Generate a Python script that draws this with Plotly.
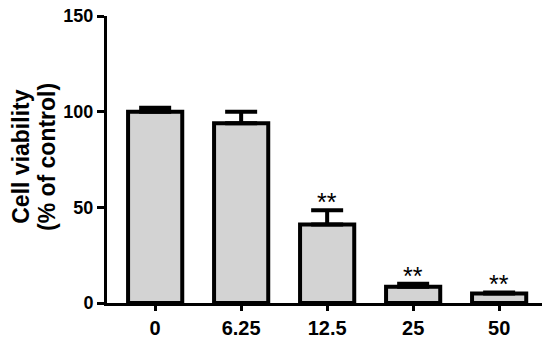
import plotly.graph_objects as go

# concentration groups and measured viability (% of control)
concentrations = ["0", "6.25", "12.5", "25", "50"]
viability = [100, 94, 41, 8.5, 5]
viability_sd = [2, 6, 7.5, 1.5, 0.5]
significance = ["", "", "**", "**", "**"]
y_title_lines = ["Cell viability", "(% of control)"]

font_family = "Liberation Sans, Arial, sans-serif"

fig = go.Figure()

fig.add_trace(go.Bar(
    x=concentrations,
    y=viability,
    marker=dict(color="#d3d3d3", line=dict(color="black", width=4)),
    error_y=dict(type="data", symmetric=False, array=viability_sd,
                 arrayminus=[0] * len(viability_sd),
                 color="black", thickness=4, width=16),
    showlegend=False,
))

# significance stars above the error bars (x given as category index)
for i, (v, e, s) in enumerate(zip(viability, viability_sd, significance)):
    if s:
        fig.add_annotation(x=i, y=v + e, text=s, showarrow=False,
                           yanchor="bottom", yshift=-8,
                           font=dict(family=font_family, size=25, color="black"))

# y-axis title as two rotated lines so the line spacing can be tightened
for xpos, line in zip([-0.197, -0.139], y_title_lines):
    fig.add_annotation(xref="paper", yref="paper", x=xpos, y=0.51,
                       text=line, textangle=-90, showarrow=False,
                       xanchor="center", yanchor="middle",
                       font=dict(family=font_family, size=23, weight="bold",
                                 color="black"))

# page body has an 8px margin, so the figure is a bit smaller than the window
fig.update_layout(
    width=542, height=331,
    margin=dict(l=99, r=7, t=8, b=36),
    paper_bgcolor="white", plot_bgcolor="white",
    bargap=0.37,
    font=dict(family=font_family, color="black"),
)

fig.update_xaxes(
    type="category", range=[-0.56, 4.51], automargin=False,
    ticklabeloverflow="allow",
    showline=True, linecolor="black", linewidth=3,
    ticks="outside", ticklen=5, tickwidth=3, tickcolor="black",
    tickfont=dict(family=font_family, size=20, weight="bold"),
    showgrid=False, zeroline=False,
)

fig.update_yaxes(
    range=[0, 150], tickvals=[0, 50, 100, 150], automargin=False,
    ticklabeloverflow="allow",
    showline=True, linecolor="black", linewidth=3,
    ticks="outside", ticklen=7, tickwidth=3, tickcolor="black",
    tickfont=dict(family=font_family, size=18, weight="bold"),
    showgrid=False, zeroline=False,
)

fig.write_html("out.html")
